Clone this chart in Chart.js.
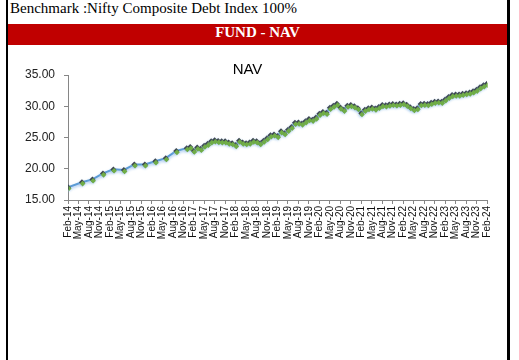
<!DOCTYPE html>
<html>
<head>
<meta charset="utf-8">
<script src="https://cdn.jsdelivr.net/npm/chart.js"></script>
<style>
  html, body { margin: 0; padding: 0; background: #fff; }
  #frame {
    position: absolute; left: 6px; top: 0; width: 499px; height: 360px;
    border-left: 2px solid #000; border-right: 3px solid #000;
  }
  #bench {
    height: 24px; line-height: 24px; padding-left: 2px;
    font: 15px "Liberation Serif", "Times New Roman", serif; color: #000;
    white-space: nowrap;
  }
  #band {
    height: 21px; line-height: 19px; background: #C00000; color: #fff;
    text-align: center; font: bold 15px "Liberation Serif", "Times New Roman", serif;
  }
  #navChart { position: absolute; left: 0; top: 45px; }
</style>
</head>
<body>
<div id="frame">
  <div id="bench">Benchmark :Nifty Composite Debt Index 100%</div>
  <div id="band">FUND - NAV</div>
  <canvas id="navChart" width="499" height="200"></canvas>
</div>
<script>
// quarterly x-axis labels
const tickLabels = [
  'Feb-14','May-14','Aug-14','Nov-14','Feb-15','May-15','Aug-15','Nov-15',
  'Feb-16','May-16','Aug-16','Nov-16','Feb-17','May-17','Aug-17','Nov-17',
  'Feb-18','May-18','Aug-18','Nov-18','Feb-19','May-19','Aug-19','Nov-19',
  'Feb-20','May-20','Aug-20','Nov-20','Feb-21','May-21','Aug-21','Nov-21',
  'Feb-22','May-22','Aug-22','Nov-22','Feb-23','May-23','Aug-23','Nov-23','Feb-24'
];

// NAV dates (quarterly at first, then monthly)
const navDates = [
  'Feb-14','Jun-14','Sep-14','Dec-14','Mar-15','Jun-15','Sep-15','Dec-15',
  'Mar-16','Jun-16','Sep-16','Dec-16',
  'Jan-17','Feb-17','Mar-17','Apr-17','May-17','Jun-17','Jul-17','Aug-17','Sep-17','Oct-17','Nov-17','Dec-17',
  'Jan-18','Feb-18','Mar-18','Apr-18','May-18','Jun-18','Jul-18','Aug-18','Sep-18','Oct-18','Nov-18','Dec-18',
  'Jan-19','Feb-19','Mar-19','Apr-19','May-19','Jun-19','Jul-19','Aug-19','Sep-19','Oct-19','Nov-19','Dec-19',
  'Jan-20','Feb-20','Mar-20','Apr-20','May-20','Jun-20','Jul-20','Aug-20','Sep-20','Oct-20','Nov-20','Dec-20',
  'Jan-21','Feb-21','Mar-21','Apr-21','May-21','Jun-21','Jul-21','Aug-21','Sep-21','Oct-21','Nov-21','Dec-21',
  'Jan-22','Feb-22','Mar-22','Apr-22','May-22','Jun-22','Jul-22','Aug-22','Sep-22','Oct-22','Nov-22','Dec-22',
  'Jan-23','Feb-23','Mar-23','Apr-23','May-23','Jun-23','Jul-23','Aug-23','Sep-23','Oct-23','Nov-23','Dec-23',
  'Jan-24','Feb-24'
];

const navValues = [
  17.05, 17.85, 18.3, 19.25, 19.9, 19.8, 20.7, 20.7,
  21.2, 21.7, 22.85, 23.3,
  23.5, 22.9, 23.4, 23.2, 23.7, 24.0, 24.4, 24.55, 24.45, 24.4, 24.4, 24.2,
  24.1, 23.8, 24.5, 24.2, 24.1, 24.2, 24.5, 24.4, 24.1, 24.5, 24.9, 25.35,
  25.5, 25.25, 26.0, 25.7, 26.25, 26.7, 27.35, 27.4, 27.25, 27.6, 27.95, 27.85,
  28.2, 28.8, 29.1, 28.95, 29.75, 30.1, 30.4, 29.8, 29.45, 30.1, 30.2, 30.0,
  29.7, 28.9, 29.45, 29.7, 29.8, 29.65, 29.9, 30.2, 30.15, 30.28, 30.38, 30.3,
  30.4, 30.5, 30.24, 29.86, 29.55, 29.7, 30.35, 30.4, 30.35, 30.55, 30.73, 30.78,
  30.72, 31.1, 31.5, 31.8, 31.87, 31.88, 32.0, 32.1, 32.2, 32.4, 32.65, 33.05,
  33.35, 33.6
];

const yTicks = [15, 20, 25, 30, 35];

const MONTHS = ['Jan','Feb','Mar','Apr','May','Jun','Jul','Aug','Sep','Oct','Nov','Dec'];
// months since Feb-14
function monthIndex(s) {
  const parts = s.split('-');
  return (Number(parts[1]) - 14) * 12 + MONTHS.indexOf(parts[0]) - 1;
}

const points = navDates.map((d, i) => ({ x: monthIndex(d), y: navValues[i] }));

// soft blue glow under the line, green markers nudged down over dark ones
const markerLook = {
  id: 'markerLook',
  beforeDatasetDraw(chart, args) {
    const c = chart.ctx;
    c.save();
    if (args.meta.label === 'line') {
      c.shadowColor = 'rgba(150,190,235,0.9)';
      c.shadowBlur = 3;
      c.shadowOffsetY = 1.5;
    } else {
      c.translate(0.7, 1.4);
    }
  },
  afterDatasetDraw(chart) {
    chart.ctx.restore();
  }
};

new Chart(document.getElementById('navChart'), {
  type: 'line',
  data: {
    datasets: [
      {
        label: 'line',
        data: points,
        order: 1,
        borderColor: '#5B9BD5',
        borderWidth: 2,
        tension: 0,
        pointStyle: 'rectRot',
        pointRadius: 3,
        pointBorderWidth: 0,
        pointBackgroundColor: '#3E4651'
      },
      {
        label: 'marks',
        data: points,
        order: 0,
        showLine: false,
        pointStyle: 'rectRot',
        pointRadius: 2.8,
        pointBorderWidth: 0,
        pointBackgroundColor: '#70AD47'
      }
    ]
  },
  options: {
    responsive: false,
    animation: false,
    layout: { padding: { left: 0, right: 20, top: 0, bottom: 0 } },
    plugins: {
      legend: { display: false },
      tooltip: { enabled: false },
      title: {
        display: true,
        text: 'NAV',
        color: '#000',
        font: { family: 'Liberation Sans', size: 15, weight: 'normal' },
        padding: { top: 16, bottom: -4 }
      }
    },
    scales: {
      x: {
        type: 'linear',
        min: 0,
        max: 120,
        afterFit(scale) { scale.height = 45; },
        border: { color: '#868686', width: 1 },
        grid: { drawOnChartArea: false, tickLength: 4, color: '#868686' },
        ticks: {
          stepSize: 3,
          autoSkip: false,
          maxTicksLimit: 60,
          minRotation: 90,
          maxRotation: 90,
          padding: 2,
          color: '#111',
          font: { family: 'Liberation Sans', size: 10 },
          callback: (v) => tickLabels[Math.round(v / 3)]
        }
      },
      y: {
        min: yTicks[0],
        max: yTicks[yTicks.length - 1],
        afterFit(scale) { scale.width = 60; },
        border: { color: '#868686', width: 1 },
        grid: { drawOnChartArea: false, tickLength: 4, color: '#868686' },
        ticks: {
          stepSize: 5,
          padding: 9,
          color: '#222',
          font: { family: 'Liberation Sans', size: 12 },
          callback: (v) => v.toFixed(2)
        }
      }
    }
  },
  plugins: [markerLook]
});
</script>
</body>
</html>
